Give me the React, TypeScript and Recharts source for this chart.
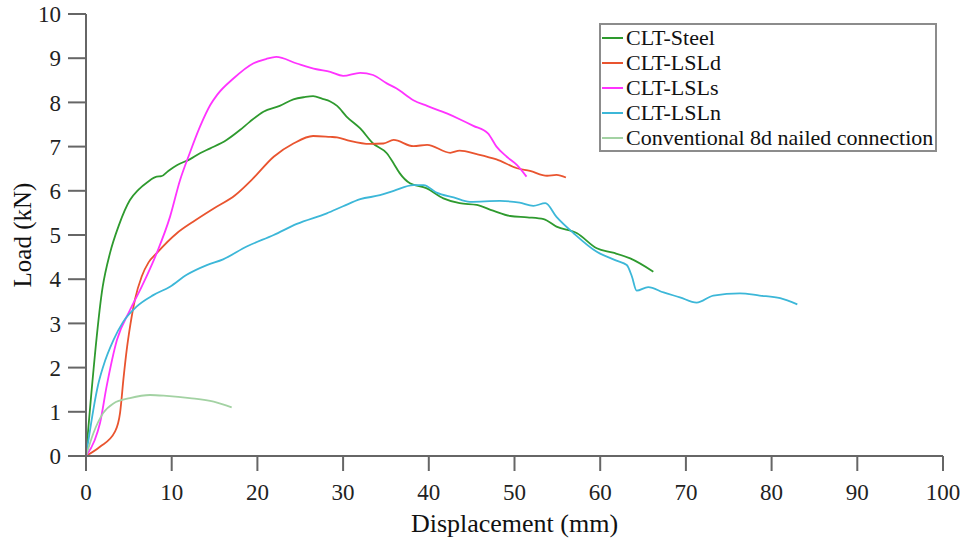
import React from 'react';
import { LineChart, Line, XAxis, YAxis, Legend, Label } from 'recharts';

// [displacement (mm), load (kN)]
const cltSteel: [number, number][] = [
  [0, 0], [1.95, 3.83], [2.8, 4.59], [3.8, 5.2], [5.13, 5.79], [6.1, 6.02], [7.2, 6.2],
  [8.25, 6.32], [8.8, 6.33], [9.6, 6.45], [10.6, 6.58], [12.1, 6.71], [13.3, 6.85],
  [14.5, 6.96], [16.4, 7.15], [18.0, 7.38], [19.1, 7.56], [20.7, 7.79], [22.6, 7.92],
  [24.2, 8.07], [25.5, 8.12], [26.5, 8.14], [27.6, 8.08], [28.5, 8.02], [29.3, 7.92],
  [30.4, 7.68], [32.0, 7.41], [33.5, 7.07], [35.1, 6.85], [35.9, 6.62], [36.6, 6.4],
  [37.8, 6.17], [39.7, 6.06], [41.7, 5.83], [43.6, 5.72], [45.6, 5.68], [47.5, 5.55],
  [49.5, 5.43], [51.5, 5.4], [53.4, 5.36], [54.9, 5.19], [57.3, 5.04], [59.6, 4.7],
  [61.5, 4.6], [63.5, 4.47], [66.2, 4.17],
];

const cltLSLd: [number, number][] = [
  [0, 0], [1.63, 0.21], [3.38, 0.55], [3.97, 0.97], [4.4, 1.8], [4.75, 2.4], [5.2, 3.0],
  [5.7, 3.53], [6.5, 4.06], [7.3, 4.38], [8.25, 4.59], [10.6, 5.04], [12.5, 5.3],
  [14.9, 5.6], [17.4, 5.9], [19.5, 6.28], [21.9, 6.77], [24.2, 7.07], [26.5, 7.24],
  [28.5, 7.22], [29.3, 7.21], [30.8, 7.13], [33.1, 7.06], [34.7, 7.07], [35.9, 7.15],
  [38.2, 7.01], [39.8, 7.04], [42.5, 6.86], [43.6, 6.91], [45.6, 6.83], [47.9, 6.71],
  [50.3, 6.51], [51.8, 6.45], [53.8, 6.34], [54.9, 6.36], [56.0, 6.3],
];

const cltLSLs: [number, number][] = [
  [0, 0], [1.0, 0.35], [1.63, 0.74], [2.4, 1.57], [3.6, 2.62], [5.13, 3.3], [6.5, 3.83],
  [8.25, 4.59], [9.8, 5.41], [10.97, 6.24], [12.1, 6.85], [13.3, 7.45], [14.5, 7.94],
  [15.3, 8.17], [17.2, 8.54], [19.5, 8.88], [21.0, 8.98], [22.2, 9.03], [24.6, 8.88],
  [26.9, 8.75], [28.5, 8.69], [30.0, 8.6], [32.0, 8.67], [33.5, 8.62], [35.1, 8.43],
  [36.2, 8.32], [38.2, 8.05], [39.8, 7.92], [42.1, 7.75], [43.6, 7.62], [45.2, 7.47],
  [46.9, 7.3], [47.9, 7.0], [49.1, 6.77], [50.3, 6.58], [51.4, 6.32],
];

const cltLSLn: [number, number][] = [
  [0, 0], [0.4, 0.5], [0.85, 1.04], [1.4, 1.6], [2.0, 2.02], [3.2, 2.62], [4.35, 3.04],
  [5.9, 3.38], [7.85, 3.64], [9.8, 3.83], [11.75, 4.1], [14.1, 4.32], [16.0, 4.45],
  [18.75, 4.74], [21.9, 5.0], [24.6, 5.25], [28.1, 5.49], [30.0, 5.65], [32.0, 5.81],
  [34.3, 5.9], [35.9, 6.0], [38.2, 6.13], [39.4, 6.13], [40.9, 5.96], [42.9, 5.85],
  [44.8, 5.75], [48.3, 5.77], [50.6, 5.73], [52.2, 5.66], [53.6, 5.72], [54.9, 5.41],
  [56.9, 5.04], [59.6, 4.62], [61.9, 4.42], [63.1, 4.32], [63.7, 4.06], [64.25, 3.74],
  [65.6, 3.82], [67.4, 3.7], [69.3, 3.59], [71.25, 3.47], [73.2, 3.63], [76.3, 3.68],
  [78.6, 3.63], [81.0, 3.57], [83.0, 3.43],
];

const conventional: [number, number][] = [
  [0, 0], [0.85, 0.51], [2.0, 0.97], [3.2, 1.19], [5.13, 1.31], [7.47, 1.38], [9.4, 1.36],
  [12.1, 1.31], [14.9, 1.23], [17.0, 1.1],
];

const xTicks = [0, 10, 20, 30, 40, 50, 60, 70, 80, 90, 100];
const yTicks = [0, 1, 2, 3, 4, 5, 6, 7, 8, 9, 10];

const series = [
  { name: 'CLT-Steel', points: cltSteel, color: '#2E9A2E' },
  { name: 'CLT-LSLd', points: cltLSLd, color: '#E9542F' },
  { name: 'CLT-LSLs', points: cltLSLs, color: '#FF33FF' },
  { name: 'CLT-LSLn', points: cltLSLn, color: '#3CB7D8' },
  { name: 'Conventional 8d nailed connection', points: conventional, color: '#A3D2A3' },
];

const FONT = '"Liberation Serif", "Times New Roman", serif';
const AXIS = '#666666';

// keep the series order of the original legend (recharts sorts its payload)
const LegendBox = () => (
  <div
    style={{
      border: '2px solid #8c8c8c',
      background: '#fff',
      fontFamily: FONT,
      fontSize: 22,
      color: '#111',
      paddingRight: 2,
    }}
  >
    {series.map((s) => (
      <div key={s.name} style={{ display: 'flex', alignItems: 'center', height: 25, whiteSpace: 'nowrap' }}>
        <span style={{ display: 'inline-block', width: 21, height: 2, background: s.color, marginLeft: 1, marginRight: 3 }} />
        <span>{s.name}</span>
      </div>
    ))}
  </div>
);

const YLabel = (props: any) => {
  const { viewBox } = props;
  const cx = viewBox.x + 22;
  const cy = viewBox.y + viewBox.height / 2;
  return (
    <text
      x={cx}
      y={cy}
      transform={`rotate(-90, ${cx}, ${cy})`}
      textAnchor="middle"
      dominantBaseline="central"
      fontFamily={FONT}
      fontSize={25}
      fill="#111"
    >
      Load (kN)
    </text>
  );
};

export default function App() {
  return (
    <div style={{ position: 'absolute', left: 0, top: 0, width: 968, height: 540, background: '#fff' }}>
      <LineChart width={968} height={540} margin={{ top: 14, right: 25, bottom: 0, left: 0 }}>
        <XAxis
          type="number"
          dataKey="x"
          domain={[0, 100]}
          ticks={xTicks}
          interval={0}
          height={84}
          tickSize={15}
          tickMargin={13}
          stroke={AXIS}
          strokeWidth={2}
          tick={{ fill: '#222', fontSize: 23, fontFamily: FONT }}
          allowDataOverflow
        >
          <Label
            value="Displacement (mm)"
            position="insideBottom"
            offset={8}
            style={{ fill: '#111', fontSize: 26, fontFamily: FONT }}
          />
        </XAxis>
        <YAxis
          type="number"
          dataKey="y"
          domain={[0, 10]}
          ticks={yTicks}
          interval={0}
          width={86}
          tickSize={18}
          tickMargin={7}
          stroke={AXIS}
          strokeWidth={2}
          tick={{ fill: '#222', fontSize: 23, fontFamily: FONT }}
        >
          <Label content={<YLabel />} />
        </YAxis>
        <Legend
          content={<LegendBox />}
          layout="vertical"
          verticalAlign="middle"
          align="center"
          wrapperStyle={{ position: 'absolute', left: 599, top: 23, width: 'auto', right: 'auto', bottom: 'auto' }}
        />
        {series.map((s) => (
          <Line
            key={s.name}
            name={s.name}
            data={s.points.map(([x, y]) => ({ x, y }))}
            dataKey="y"
            type="monotone"
            stroke={s.color}
            strokeWidth={1.8}
            dot={false}
            activeDot={false}
            isAnimationActive={false}
          />
        ))}
      </LineChart>
    </div>
  );
}
